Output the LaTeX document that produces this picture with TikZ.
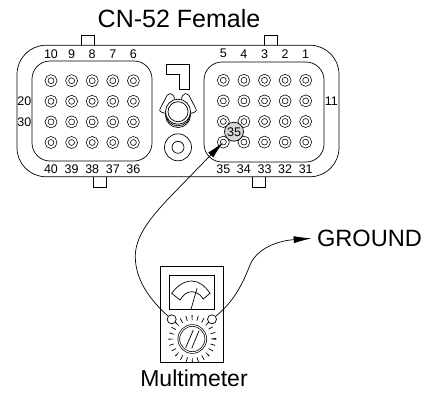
\documentclass[tikz,border=0pt]{standalone}
\usepackage{fontspec}
\setmainfont{Liberation Sans}
\usetikzlibrary{arrows.meta}

\begin{document}
\begin{tikzpicture}[x=1pt,y=-1pt,node distance={20.6pt},line width=0.7pt,
    pinhole/.style = {draw, circle, double, double distance=2pt, inner sep=0pt, minimum size=9pt},
    numtext/.style = {inner sep=0pt, font=\fontsize{12.5}{14}\selectfont},
    bigtext/.style = {inner sep=0pt, font=\fontsize{24}{26}\selectfont},
    block/.style = {draw, fill=white, inner sep=0pt},
    round/.style = {draw, circle, fill=white, inner sep=0pt},
    wire/.style = {line width=0.7pt, -{Latex[length=18pt,width=7pt]}}]
        \useasboundingbox (0,0) rectangle (427,394);

        \node[bigtext,font=\fontsize{25}{27}\selectfont] (title) at (179,18.7) {CN-52 Female};

        % shell and keys
        \node[block,minimum width=13pt,minimum height=11pt] (tab1) at (87.5,40.5) {};
        \node[block,minimum width=13pt,minimum height=11pt] (tab2) at (270.5,40.5) {};
        \node[block,minimum width=13pt,minimum height=11pt] (tab3) at (99.5,182) {};
        \node[block,minimum width=13pt,minimum height=11pt] (tab4) at (258.5,182) {};
        \node[block,rounded corners=29pt,minimum width=322pt,minimum height=131.5pt] (shell) at (178,111) {};
        \node[block,rounded corners=18pt,minimum width=120pt,minimum height=100pt] (left) at (92,111) {};
        \node[block,rounded corners=18pt,minimum width=120pt,minimum height=100pt] (right) at (264,112) {};

        % left block
        \node[pinhole] (l11) at (51,80.7) {};
        \node[pinhole] (l12) [right of=l11] {};
        \node[pinhole] (l13) [right of=l12] {};
        \node[pinhole] (l14) [right of=l13] {};
        \node[pinhole] (l15) [right of=l14] {};
        \node[pinhole] (l21) [below of=l11] {};
        \node[pinhole] (l22) [right of=l21] {};
        \node[pinhole] (l23) [right of=l22] {};
        \node[pinhole] (l24) [right of=l23] {};
        \node[pinhole] (l25) [right of=l24] {};
        \node[pinhole] (l31) [below of=l21] {};
        \node[pinhole] (l32) [right of=l31] {};
        \node[pinhole] (l33) [right of=l32] {};
        \node[pinhole] (l34) [right of=l33] {};
        \node[pinhole] (l35) [right of=l34] {};
        \node[pinhole] (l41) [below of=l31] {};
        \node[pinhole] (l42) [right of=l41] {};
        \node[pinhole] (l43) [right of=l42] {};
        \node[pinhole] (l44) [right of=l43] {};
        \node[pinhole] (l45) [right of=l44] {};

        % right block
        \node[pinhole] (r11) at (223.3,80.3) {};
        \node[pinhole] (r12) [right of=r11] {};
        \node[pinhole] (r13) [right of=r12] {};
        \node[pinhole] (r14) [right of=r13] {};
        \node[pinhole] (r15) [right of=r14] {};
        \node[pinhole] (r21) [below of=r11] {};
        \node[pinhole] (r22) [right of=r21] {};
        \node[pinhole] (r23) [right of=r22] {};
        \node[pinhole] (r24) [right of=r23] {};
        \node[pinhole] (r25) [right of=r24] {};
        \node[pinhole] (r31) [below of=r21] {};
        \node[pinhole] (r32) [right of=r31] {};
        \node[pinhole] (r33) [right of=r32] {};
        \node[pinhole] (r34) [right of=r33] {};
        \node[pinhole] (r35) [right of=r34] {};
        \node[pinhole] (r41) [below of=r31] {};
        \node[pinhole] (r42) [right of=r41] {};
        \node[pinhole] (r43) [right of=r42] {};
        \node[pinhole] (r44) [right of=r43] {};
        \node[pinhole] (r45) [right of=r44] {};

        \node[numtext] (n10) [above of=l11,yshift=6pt] {10};
        \node[numtext] (n9) [above of=l12,yshift=6pt] {9};
        \node[numtext] (n8) [above of=l13,yshift=6pt] {8};
        \node[numtext] (n7) [above of=l14,yshift=6pt] {7};
        \node[numtext] (n6) [above of=l15,yshift=6pt] {6};
        \node[numtext] (n5) [above of=r11,yshift=6pt] {5};
        \node[numtext] (n4) [above of=r12,yshift=6pt] {4};
        \node[numtext] (n3) [above of=r13,yshift=6pt] {3};
        \node[numtext] (n2) [above of=r14,yshift=6pt] {2};
        \node[numtext] (n1) [above of=r15,yshift=6pt] {1};
        \node[numtext] (n40) [below of=l41,yshift=-6pt] {40};
        \node[numtext] (n39) [below of=l42,yshift=-6pt] {39};
        \node[numtext] (n38) [below of=l43,yshift=-6pt] {38};
        \node[numtext] (n37) [below of=l44,yshift=-6pt] {37};
        \node[numtext] (n36) [below of=l45,yshift=-6pt] {36};
        \node[numtext] (n35) [below of=r41,yshift=-6pt] {35};
        \node[numtext] (n34) [below of=r42,yshift=-6pt] {34};
        \node[numtext] (n33) [below of=r43,yshift=-6pt] {33};
        \node[numtext] (n32) [below of=r44,yshift=-6pt] {32};
        \node[numtext] (n31) [below of=r45,yshift=-6pt] {31};
        \node[numtext] (n20) [left of=l21,xshift=-6pt] {20};
        \node[numtext] (n30) [left of=l31,xshift=-6pt] {30};
        \node[numtext] (n11) [right of=r25,xshift=5pt] {11};

        \node[round,fill=black!16,minimum size=19pt,font=\fontsize{12.5}{14}\selectfont] (mark) at (234,131.7) {35};

        % centre key, latch and screw
        \draw (166,64) -- (189.3,64) -- (189.3,89) -- (179.3,89) -- (179.3,74) -- (166,74) -- cycle;
        \draw[rounded corners=2pt] (159,111) -- (168,93.5) -- (173,94) -- (175,100) -- (166,114) -- cycle;
        \draw[rounded corners=2pt] (197,111) -- (188,93.5) -- (183,94) -- (181,100) -- (190,114) -- cycle;
        \node[round,minimum size=25pt] (latch3) at (178,115) {};
        \node[round,minimum size=25pt] (latch2) at (178,113.3) {};
        \node[round,minimum size=25pt] (latch1) at (178,111.7) {};
        \node[round,minimum size=20pt] (latch0) at (178,111.7) {};
        \node[round,minimum size=27pt] (screw) at (178,147.3) {};
        \node[round,minimum size=12pt] (screw0) at (178,147.3) {};

        % meter
        \node[block,minimum width=62.6pt,minimum height=96pt] (meter) at (192,314) {};
        \node[block,line width=1pt,minimum width=45pt,minimum height=33.3pt] (dial) at (191.8,292.6) {};
        \draw (171.7,293.3) .. controls (177,286) and (184,281) .. (191.7,281) .. controls (199,281) and (205,286) .. (210,293.3) -- (203.3,299) .. controls (200,294) and (196,291.7) .. (191.7,291.7) .. controls (187,291.7) and (183,295) .. (180,300) -- cycle;
        \draw (191,309.3) -- (197,288.3);
        \node[draw,circle,inner sep=0pt,minimum size=43pt,line width=5pt,dash pattern=on 0.7pt off 4.9pt] (ticks) at (192.3,339) {};
        \node[round,double,double distance=1pt,minimum size=27pt] (knob) at (192.3,339) {};
        \draw (185.7,347.7) -- (193.3,330);
        \draw (191.7,348.3) -- (199,330.7);
        \node[round,minimum size=9pt] (jackl) at (171.7,319.3) {};
        \node[round,minimum size=9pt] (jackr) at (212,319.3) {};

        \node[bigtext,font=\fontsize{23}{25}\selectfont] (multimeter) at (194,378) {Multimeter};
        \node[bigtext,font=\fontsize{23.6}{26}\selectfont,anchor=west] (ground) at (316.7,238) {GROUND};

        \coordinate (bendl) at (170,197);
        \coordinate (sidel) at (135.3,257);
        \coordinate (sider) at (250,265);
        \draw[wire] (jackl) .. controls (150,300) and (135.5,280) .. (sidel) .. controls (135,238) and (148,220) .. (bendl) -- (r41.center);
        \draw[wire,shorten >=5pt] (jackr) .. controls (232,303) and (241,288) .. (sider) .. controls (256,250) and (275,241) .. (ground.west);
\end{tikzpicture}
\end{document}
